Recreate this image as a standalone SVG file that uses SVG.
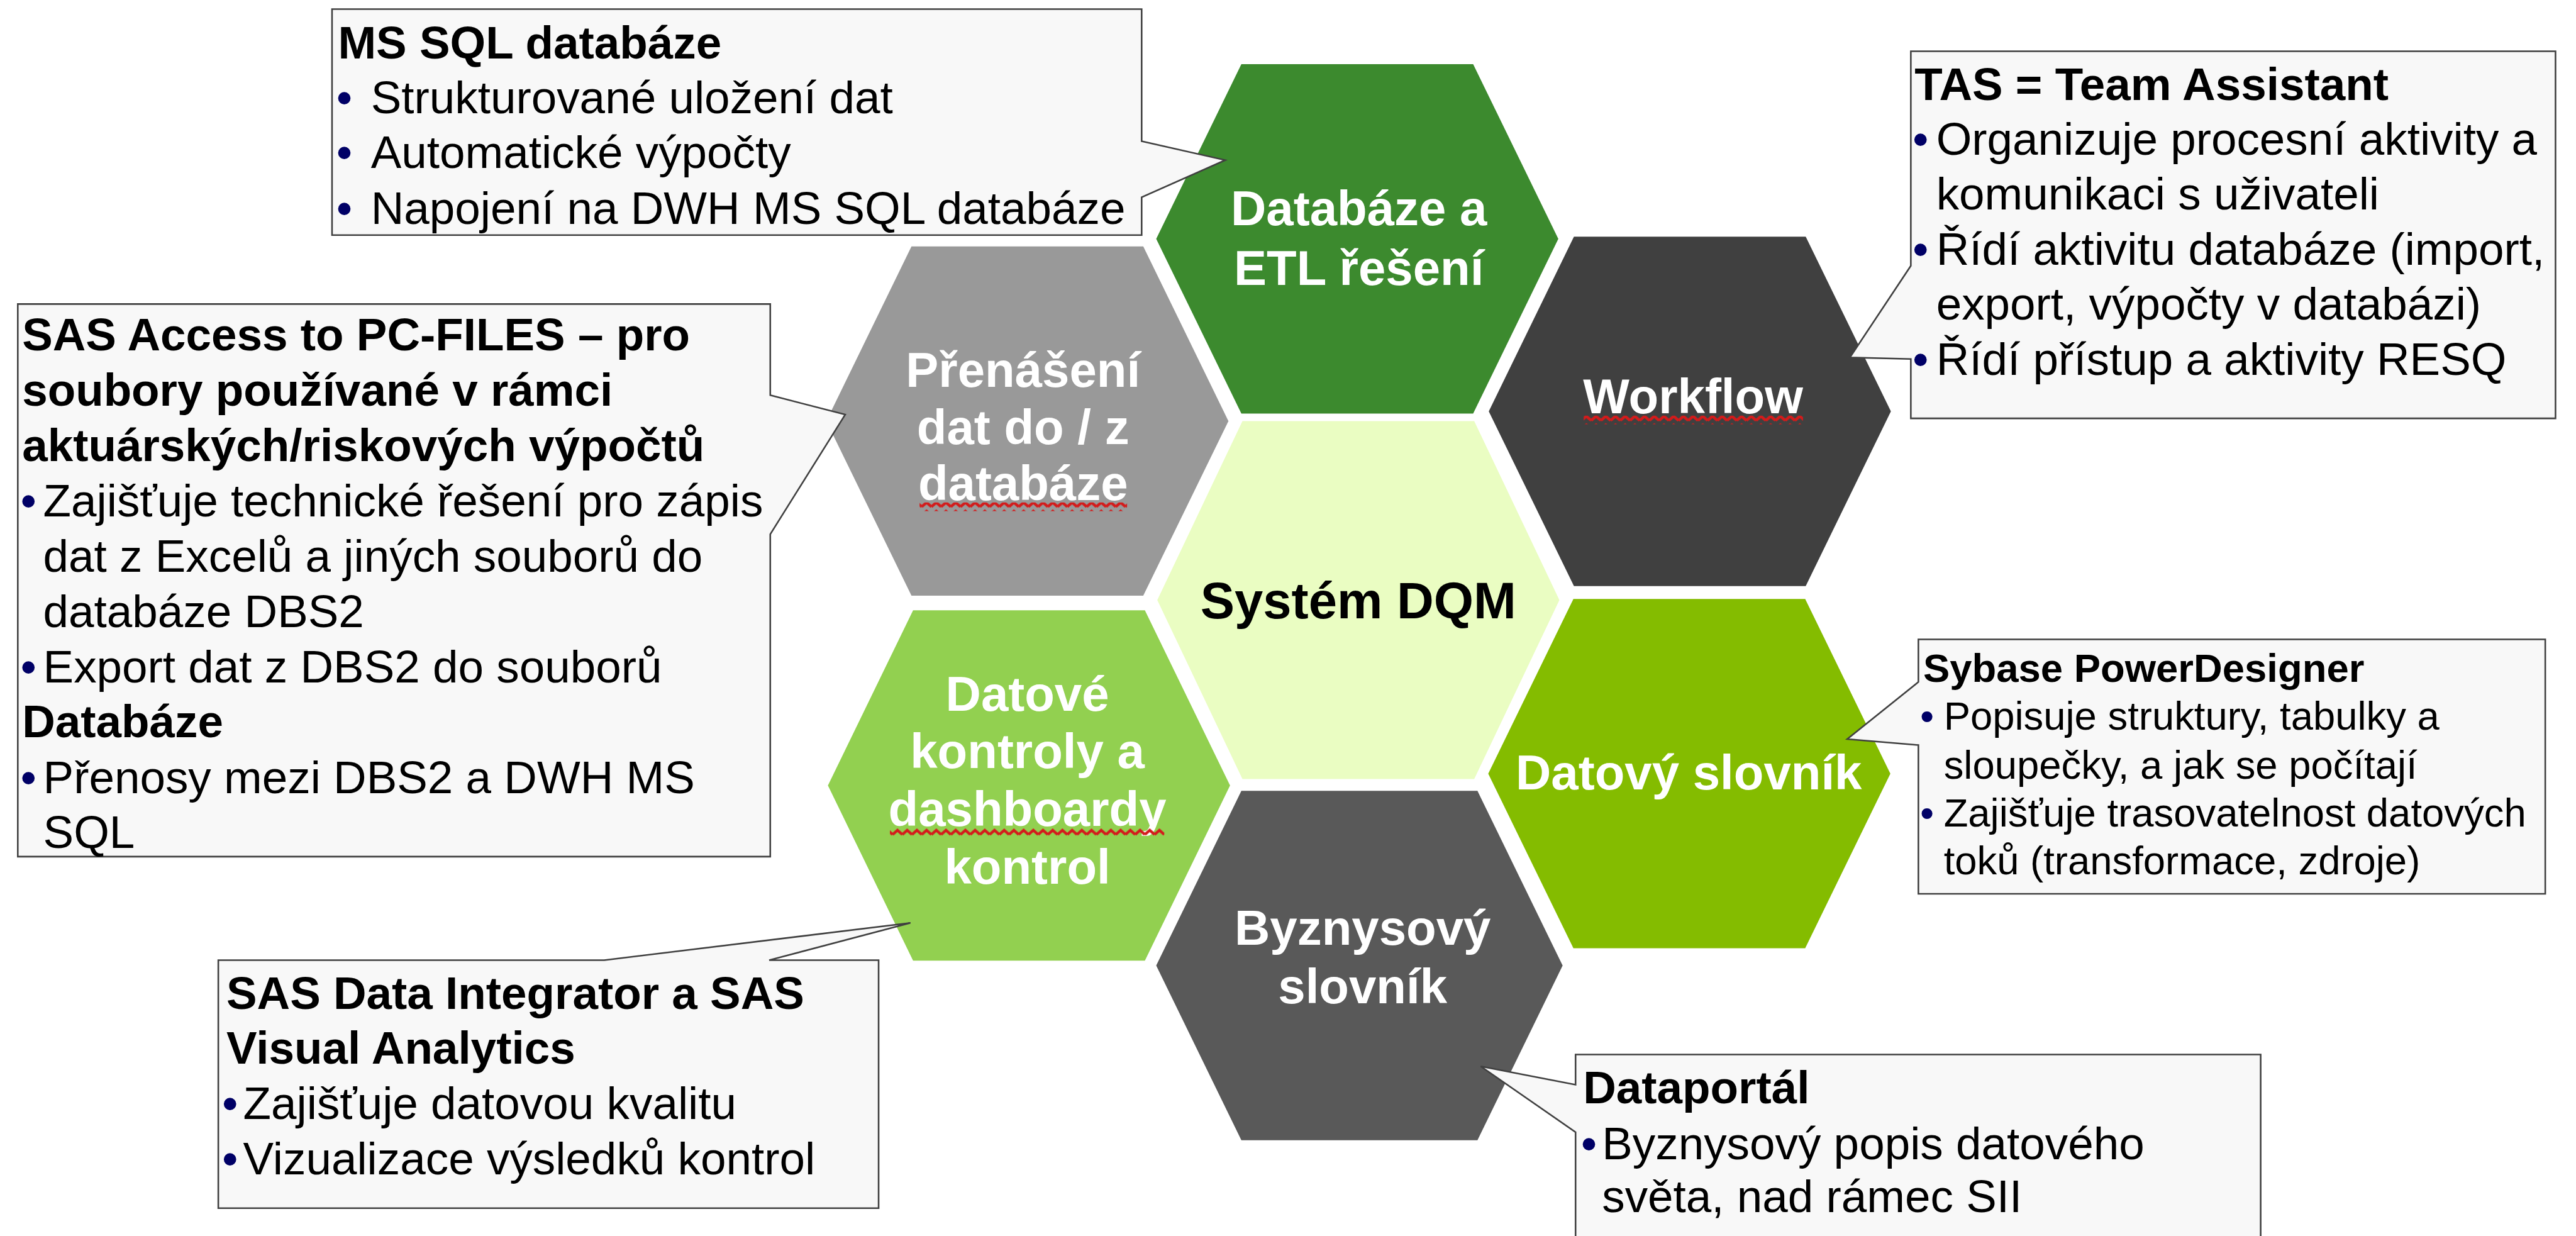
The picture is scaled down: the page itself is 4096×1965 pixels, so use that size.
<svg xmlns="http://www.w3.org/2000/svg" width="4096" height="1965" viewBox="0 0 4096 1965">
<defs>
<style>
.lbl{font-family:"Liberation Sans",Arial,sans-serif;font-weight:bold;font-size:91px;fill:#fff;text-anchor:middle}
.dqm{fill:#000;font-size:95px}
.co{fill:#F8F8F8;stroke:#404040;stroke-width:3;stroke-linejoin:miter}
.t{font-family:"Liberation Sans",Arial,sans-serif;font-size:85px;fill:#000}
.s{font-size:74px}
.b{font-weight:bold}
.dot{fill:#000066}
</style>
<pattern id="squig" x="0" y="0" width="18" height="16" patternUnits="userSpaceOnUse">
<polyline points="0,12 9,4 18,12" fill="none" stroke="#D31B1B" stroke-width="5"/>
</pattern>
</defs>
<rect width="4096" height="1965" fill="#FFFFFF"/>
<g transform="scale(0.85708)">
<g id="hex-databaze">
<path d="M2303,119 H2733 L2891,443 L2733,767 H2303 L2145,443 Z" fill="#3C8A2E"/>
<text class="lbl" x="2521" y="418">Databáze a</text>
<text class="lbl" x="2521" y="528">ETL řešení</text>
</g>
<g id="hex-prenaseni">
<path d="M1691,457 H2121 L2279,781 L2121,1105 H1691 L1533,781 Z" fill="#999999"/>
<text class="lbl" x="1898" y="717">Přenášení</text>
<text class="lbl" x="1898" y="824">dat do / z</text>
<text class="lbl" x="1898" y="928">databáze</text>
<rect x="1706" y="932" width="385" height="16" fill="url(#squig)"/>
</g>
<g id="hex-workflow">
<path d="M2920,439 H3350 L3508,763 L3350,1087 H2920 L2762,763 Z" fill="#404040"/>
<text class="lbl" x="3141" y="767">Workflow</text>
<rect x="2938" y="771" width="407" height="16" fill="url(#squig)"/>
</g>
<g id="hex-dqm">
<path d="M2305,781 H2735 L2893,1113 L2735,1445 H2305 L2147,1113 Z" fill="#EAFDC2"/>
<text class="lbl dqm" x="2520" y="1147">Systém DQM</text>
</g>
<g id="hex-kontroly">
<path d="M1694,1132 H2124 L2282,1457 L2124,1782 H1694 L1536,1457 Z" fill="#92D050"/>
<text class="lbl" x="1906" y="1318">Datové</text>
<text class="lbl" x="1906" y="1425">kontroly a</text>
<text class="lbl" x="1906" y="1532">dashboardy</text>
<rect x="1651" y="1536" width="509" height="16" fill="url(#squig)"/>
<text class="lbl" x="1906" y="1639">kontrol</text>
</g>
<g id="hex-datovy-slovnik">
<path d="M2919,1111 H3349 L3507,1435 L3349,1759 H2919 L2761,1435 Z" fill="#84BC00"/>
<text class="lbl" x="3133" y="1464">Datový slovník</text>
</g>
<g id="hex-byznysovy">
<path d="M2303,1467 H2741 L2899,1791 L2741,2115 H2303 L2145,1791 Z" fill="#595959"/>
<text class="lbl" x="2528" y="1753">Byznysový</text>
<text class="lbl" x="2528" y="1861">slovník</text>
</g>
<g id="connectors">
<g id="callout-mssql">
<path class="co" d="M616,17 H2118 V262 L2273,297 L2118,366 V436 H616 Z"/>
<text class="t b" x="627" y="108">MS SQL databáze</text>
<text class="t dot" x="624" y="210">•</text><text class="t" x="688" y="210">Strukturované uložení dat</text>
<text class="t dot" x="624" y="312">•</text><text class="t" x="688" y="312">Automatické výpočty</text>
<text class="t dot" x="624" y="415">•</text><text class="t" x="688" y="415">Napojení na DWH MS SQL databáze</text>
</g>
<g id="callout-tas">
<path class="co" d="M3545,95 H4741 V776 H3545 V666 L3432,663 L3545,493 Z"/>
<text class="t b" x="3552" y="185">TAS = Team Assistant</text>
<text class="t dot" x="3548" y="287">•</text><text class="t" x="3592" y="287">Organizuje procesní aktivity a</text>
<text class="t" x="3592" y="389">komunikaci s uživateli</text>
<text class="t dot" x="3548" y="491">•</text><text class="t" x="3592" y="491">Řídí aktivitu databáze (import,</text>
<text class="t" x="3592" y="593">export, výpočty v databázi)</text>
<text class="t dot" x="3548" y="695">•</text><text class="t" x="3592" y="695">Řídí přístup a aktivity RESQ</text>
</g>
<g id="callout-sas-access">
<path class="co" d="M33,564 H1429 V733 L1568,769 L1429,991 V1589 H33 Z"/>
<text class="t b" x="41" y="650">SAS Access to PC-FILES – pro</text>
<text class="t b" x="41" y="753">soubory používané v rámci</text>
<text class="t b" x="41" y="855">aktuárských/riskových výpočtů</text>
<text class="t dot" x="38" y="958">•</text><text class="t" x="80" y="958">Zajišťuje technické řešení pro zápis</text>
<text class="t" x="80" y="1060">dat z Excelů a jiných souborů do</text>
<text class="t" x="80" y="1163">databáze DBS2</text>
<text class="t dot" x="38" y="1266">•</text><text class="t" x="80" y="1266">Export dat z DBS2 do souborů</text>
<text class="t b" x="41" y="1368">Databáze</text>
<text class="t dot" x="38" y="1471">•</text><text class="t" x="80" y="1471">Přenosy mezi DBS2 a DWH MS</text>
<text class="t" x="80" y="1573">SQL</text>
</g>
<g id="callout-sybase">
<path class="co" d="M3559,1186 H4722 V1658 H3559 V1382 L3427,1371 L3559,1265 Z"/>
<text class="t s b" x="3568" y="1265">Sybase PowerDesigner</text>
<text class="t s dot" x="3562" y="1354">•</text><text class="t s" x="3606" y="1354">Popisuje struktury, tabulky a</text>
<text class="t s" x="3606" y="1445">sloupečky, a jak se počítají</text>
<text class="t s dot" x="3562" y="1533">•</text><text class="t s" x="3606" y="1533">Zajišťuje trasovatelnost datových</text>
<text class="t s" x="3606" y="1622">toků (transformace, zdroje)</text>
</g>
<g id="callout-sas-di">
<path class="co" d="M405,1781 H1121 L1689,1712 L1427,1781 H1630 V2241 H405 Z"/>
<text class="t b" x="420" y="1872">SAS Data Integrator a SAS</text>
<text class="t b" x="420" y="1973">Visual Analytics</text>
<text class="t dot" x="412" y="2076">•</text><text class="t" x="451" y="2076">Zajišťuje datovou kvalitu</text>
<text class="t dot" x="412" y="2178">•</text><text class="t" x="451" y="2178">Vizualizace výsledků kontrol</text>
</g>
<g id="callout-dataportal">
<path class="co" d="M2923,1956 H4194 V2310 H2923 V2100 L2747,1978 L2923,2012 Z"/>
<text class="t b" x="2937" y="2046">Dataportál</text>
<text class="t dot" x="2933" y="2150">•</text><text class="t" x="2972" y="2150">Byznysový popis datového</text>
<text class="t" x="2972" y="2248">světa, nad rámec SII</text>
</g>
</g>
</g>
</svg>
